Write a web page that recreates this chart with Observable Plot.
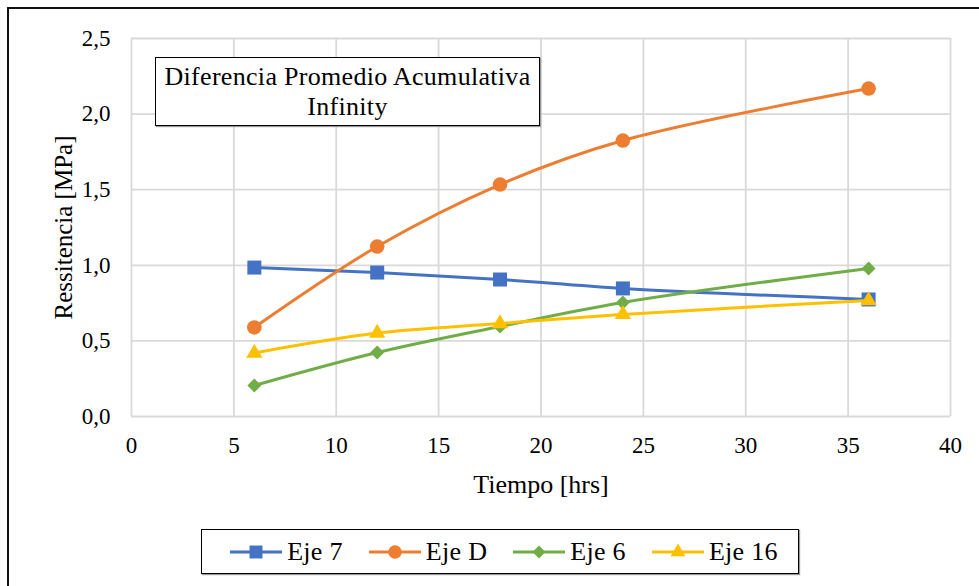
<!DOCTYPE html>
<html>
<head>
<meta charset="utf-8">
<script src="https://cdn.jsdelivr.net/npm/d3@7"></script>
<script src="https://cdn.jsdelivr.net/npm/@observablehq/plot@0.6"></script>
<style>
  body { margin: 0; background: #fff; }
  #wrap { position: relative; width: 979px; height: 586px; background: #fff; overflow: hidden; font-family: 'Liberation Serif'; color: #000; }
  #frame { position: absolute; left: 7px; top: 7px; width: 1000px; height: 600px; border-top: 2px solid #111; border-left: 2px solid #111; }
  #chart { position: absolute; left: 0; top: 0; }
  #titlebox { position: absolute; box-sizing: border-box; left: 155px; top: 57px; width: 385px; height: 69px; border: 1.5px solid #000; background: #fff; text-align: center; font-family: 'Liberation Serif'; font-size: 26px; line-height: 30px; letter-spacing: 0.3px; padding-top: 4px; box-shadow: 1px 1px 1px #999; white-space: nowrap; }
  #legend { position: absolute; box-sizing: border-box; left: 201px; top: 529px; width: 598px; height: 45px; border: 1.5px solid #000; background: #fff; display: flex; align-items: center; justify-content: center; gap: 26px; padding-left: 8px; font-family: 'Liberation Serif'; font-size: 26px; letter-spacing: 0.3px; box-shadow: 1px 1px 1px #999; }
  .item { display: flex; align-items: center; gap: 5px; }
</style>
</head>
<body>
<div id="wrap">
  <div id="frame"></div>
  <div id="chart"></div>
  <div id="titlebox">Diferencia Promedio Acumulativa<br>Infinity</div>
  <div id="legend"></div>
</div>
<script>
// ---- data ----
const hours = [6, 12, 18, 24, 36];
const eje7  = [0.985, 0.952, 0.906, 0.847, 0.774];
const ejeD  = [0.589, 1.124, 1.534, 1.825, 2.169];
const eje6  = [0.205, 0.423, 0.595, 0.754, 0.979];
const eje16 = [0.420, 0.552, 0.615, 0.675, 0.767];
const seriesNames = ["Eje 7", "Eje D", "Eje 6", "Eje 16"];
const seriesValues = [eje7, ejeD, eje6, eje16];
const seriesColors = ["#4472C4", "#ED7D31", "#70AD47", "#FFC000"];
const seriesSymbols = ["square", "circle", "diamond2", "triangle"];
const seriesR = [7.9, 7.3, 6.3, 6.0];
const xTicks = [0, 5, 10, 15, 20, 25, 30, 35, 40];
const yTicks = [0, 0.5, 1.0, 1.5, 2.0, 2.5];
const xTitle = "Tiempo [hrs]";
const yTitle = "Ressitencia [MPa]";

const table = seriesNames.map((name, s) => hours.map((h, i) => ({series: name, x: h, y: seriesValues[s][i]})));

const marks = [
  Plot.gridX(xTicks, {stroke: "#d9d9d9", strokeOpacity: 1, strokeWidth: 1.8}),
  Plot.gridY(yTicks, {stroke: "#d9d9d9", strokeOpacity: 1, strokeWidth: 1.8}),
  Plot.axisX(xTicks, {tickSize: 0, tickPadding: 20, fontSize: 23, tickFormat: d => String(d), label: null}),
  Plot.axisY(yTicks, {tickSize: 0, tickPadding: 21, fontSize: 23, tickFormat: d => d.toFixed(1).replace(".", ","), label: null}),
  Plot.text([xTitle], {frameAnchor: "bottom", dy: 68, lineAnchor: "middle", textAnchor: "middle", fontSize: 26, text: d => d}),
  Plot.text([yTitle], {frameAnchor: "left", dx: -68, rotate: -90, textAnchor: "middle", lineAnchor: "middle", fontSize: 25, text: d => d})
];
table.forEach((rows, s) => {
  marks.push(Plot.line(rows, {x: "x", y: "y", stroke: seriesColors[s], strokeWidth: 3, curve: "catmull-rom"}));
  marks.push(Plot.dot(rows, {x: "x", y: "y", fill: seriesColors[s], stroke: "none", symbol: seriesSymbols[s], r: seriesR[s]}));
});

const chart = Plot.plot({
  width: 979,
  height: 586,
  marginLeft: 131,
  marginRight: 29,
  marginTop: 38,
  marginBottom: 170,
  style: {fontFamily: "'Liberation Serif'", fontSize: "23px", color: "#000", background: "transparent", overflow: "visible"},
  x: {domain: [0, 40]},
  y: {domain: [0, 2.5]},
  marks
});
document.getElementById("chart").appendChild(chart);

// legend
const legend = d3.select("#legend");
const symMap = {square: d3.symbolSquare, circle: d3.symbolCircle, diamond2: d3.symbolDiamond2, triangle: d3.symbolTriangle};
seriesNames.forEach((name, s) => {
  const item = legend.append("div").attr("class", "item");
  const sv = item.append("svg").attr("width", 52).attr("height", 20);
  sv.append("line").attr("x1", 0).attr("x2", 52).attr("y1", 10).attr("y2", 10)
    .attr("stroke", seriesColors[s]).attr("stroke-width", 3);
  sv.append("path").attr("transform", "translate(26,10)")
    .attr("d", d3.symbol(symMap[seriesSymbols[s]], Math.PI * seriesR[s] * seriesR[s] * 0.85)())
    .attr("fill", seriesColors[s]);
  item.append("span").text(name);
});
</script>
</body>
</html>
